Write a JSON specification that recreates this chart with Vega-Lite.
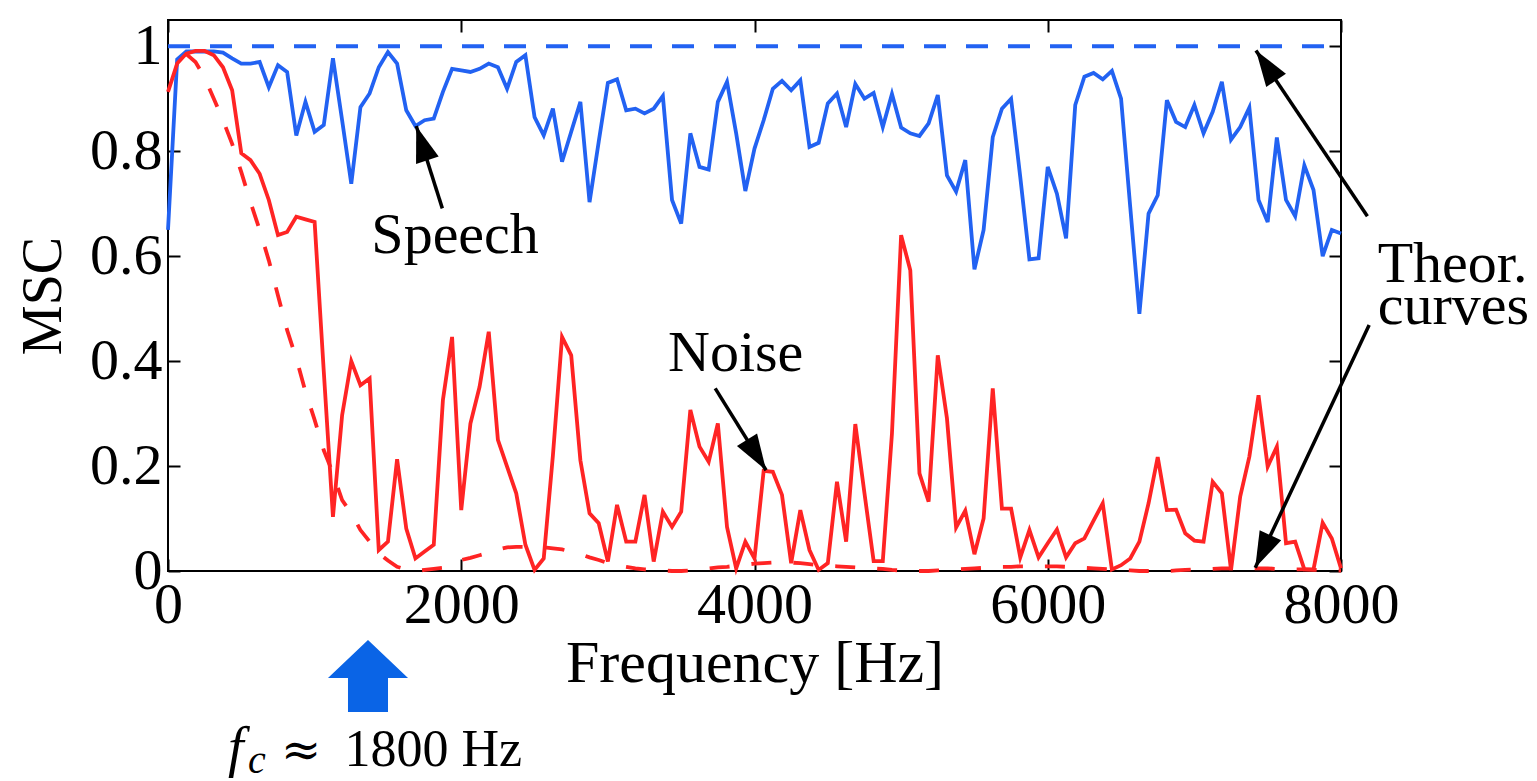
{
  "$schema": "https://vega.github.io/schema/vega-lite/v6.json",
  "width": 1173,
  "height": 551,
  "autosize": {"type": "none"},
  "padding": {"left": 168, "top": 20, "right": 196, "bottom": 210},
  "background": "white",
  "config": {
    "view": {"stroke": "black", "strokeWidth": 2},
    "font": "Liberation Serif",
    "axis": {
      "domain": false,
      "grid": false,
      "tickColor": "black",
      "tickWidth": 2,
      "tickSize": -12,
      "labelFont": "Liberation Serif",
      "labelColor": "black",
      "labelFontSize": 58,
      "labelFlush": false,
      "labelOverlap": false,
      "titleFont": "Liberation Serif",
      "titleColor": "black",
      "titleFontWeight": "normal"
    }
  },
  "datasets": {
    "curves": [
      {"f": 0, "speech": 0.65, "noise": 0.913, "noiseTheory": null},
      {"f": 62.5, "speech": 0.975, "noise": 0.967, "noiseTheory": null},
      {"f": 125, "speech": 0.99, "noise": 0.986, "noiseTheory": 0.985},
      {"f": 187.5, "speech": 0.99, "noise": 0.991, "noiseTheory": 0.97},
      {"f": 250, "speech": 0.99, "noise": 0.991, "noiseTheory": 0.94},
      {"f": 312.5, "speech": 0.99, "noise": 0.983, "noiseTheory": 0.9},
      {"f": 375, "speech": 0.988, "noise": 0.96, "noiseTheory": 0.859},
      {"f": 437.5, "speech": 0.977, "noise": 0.916, "noiseTheory": 0.814},
      {"f": 500, "speech": 0.967, "noise": 0.796, "noiseTheory": 0.76},
      {"f": 562.5, "speech": 0.967, "noise": 0.783, "noiseTheory": 0.703},
      {"f": 625, "speech": 0.97, "noise": 0.757, "noiseTheory": 0.65},
      {"f": 687.5, "speech": 0.922, "noise": 0.707, "noiseTheory": 0.592},
      {"f": 750, "speech": 0.964, "noise": 0.64, "noiseTheory": 0.525},
      {"f": 812.5, "speech": 0.951, "noise": 0.646, "noiseTheory": 0.459},
      {"f": 875, "speech": 0.83, "noise": 0.675, "noiseTheory": 0.405},
      {"f": 937.5, "speech": 0.894, "noise": 0.67, "noiseTheory": 0.342},
      {"f": 1000, "speech": 0.837, "noise": 0.665, "noiseTheory": 0.288},
      {"f": 1062.5, "speech": 0.85, "noise": 0.38, "noiseTheory": 0.23},
      {"f": 1125, "speech": 0.977, "noise": 0.103, "noiseTheory": 0.186},
      {"f": 1187.5, "speech": 0.859, "noise": 0.297, "noiseTheory": 0.135},
      {"f": 1250, "speech": 0.738, "noise": 0.4, "noiseTheory": 0.11},
      {"f": 1312.5, "speech": 0.884, "noise": 0.354, "noiseTheory": 0.078},
      {"f": 1375, "speech": 0.91, "noise": 0.367, "noiseTheory": 0.056},
      {"f": 1437.5, "speech": 0.96, "noise": 0.04, "noiseTheory": 0.034},
      {"f": 1500, "speech": 0.989, "noise": 0.056, "noiseTheory": 0.02},
      {"f": 1562.5, "speech": 0.967, "noise": 0.213, "noiseTheory": 0.008},
      {"f": 1625, "speech": 0.878, "noise": 0.081, "noiseTheory": 0.003},
      {"f": 1687.5, "speech": 0.848, "noise": 0.024, "noiseTheory": 0.0},
      {"f": 1750, "speech": 0.859, "noise": 0.037, "noiseTheory": 0.002},
      {"f": 1812.5, "speech": 0.862, "noise": 0.05, "noiseTheory": 0.004},
      {"f": 1875, "speech": 0.913, "noise": 0.326, "noiseTheory": 0.006},
      {"f": 1937.5, "speech": 0.957, "noise": 0.446, "noiseTheory": 0.014},
      {"f": 2000, "speech": 0.954, "noise": 0.116, "noiseTheory": 0.021},
      {"f": 2062.5, "speech": 0.951, "noise": 0.281, "noiseTheory": 0.025},
      {"f": 2125, "speech": 0.957, "noise": 0.351, "noiseTheory": 0.03},
      {"f": 2187.5, "speech": 0.967, "noise": 0.456, "noiseTheory": 0.035},
      {"f": 2250, "speech": 0.96, "noise": 0.25, "noiseTheory": 0.041},
      {"f": 2312.5, "speech": 0.919, "noise": 0.199, "noiseTheory": 0.045},
      {"f": 2375, "speech": 0.97, "noise": 0.148, "noiseTheory": 0.046},
      {"f": 2437.5, "speech": 0.983, "noise": 0.05, "noiseTheory": 0.046},
      {"f": 2500, "speech": 0.865, "noise": 0.002, "noiseTheory": 0.046},
      {"f": 2562.5, "speech": 0.83, "noise": 0.024, "noiseTheory": 0.045},
      {"f": 2625, "speech": 0.881, "noise": 0.22, "noiseTheory": 0.043},
      {"f": 2687.5, "speech": 0.78, "noise": 0.446, "noiseTheory": 0.041},
      {"f": 2750, "speech": 0.837, "noise": 0.411, "noiseTheory": 0.037},
      {"f": 2812.5, "speech": 0.894, "noise": 0.211, "noiseTheory": 0.032},
      {"f": 2875, "speech": 0.703, "noise": 0.11, "noiseTheory": 0.026},
      {"f": 2937.5, "speech": 0.818, "noise": 0.091, "noiseTheory": 0.021},
      {"f": 3000, "speech": 0.93, "noise": 0.018, "noiseTheory": 0.015},
      {"f": 3062.5, "speech": 0.937, "noise": 0.126, "noiseTheory": 0.011},
      {"f": 3125, "speech": 0.878, "noise": 0.056, "noiseTheory": 0.008},
      {"f": 3187.5, "speech": 0.881, "noise": 0.056, "noiseTheory": 0.005},
      {"f": 3250, "speech": 0.872, "noise": 0.145, "noiseTheory": 0.003},
      {"f": 3312.5, "speech": 0.881, "noise": 0.018, "noiseTheory": 0.002},
      {"f": 3375, "speech": 0.905, "noise": 0.113, "noiseTheory": 0.001},
      {"f": 3437.5, "speech": 0.707, "noise": 0.084, "noiseTheory": 0.0},
      {"f": 3500, "speech": 0.662, "noise": 0.113, "noiseTheory": 0.0},
      {"f": 3562.5, "speech": 0.834, "noise": 0.307, "noiseTheory": 0.001},
      {"f": 3625, "speech": 0.77, "noise": 0.237, "noiseTheory": 0.003},
      {"f": 3687.5, "speech": 0.765, "noise": 0.208, "noiseTheory": 0.005},
      {"f": 3750, "speech": 0.894, "noise": 0.281, "noiseTheory": 0.007},
      {"f": 3812.5, "speech": 0.932, "noise": 0.084, "noiseTheory": 0.008},
      {"f": 3875, "speech": 0.834, "noise": 0.005, "noiseTheory": 0.01},
      {"f": 3937.5, "speech": 0.724, "noise": 0.056, "noiseTheory": 0.012},
      {"f": 4000, "speech": 0.805, "noise": 0.024, "noiseTheory": 0.014},
      {"f": 4062.5, "speech": 0.859, "noise": 0.191, "noiseTheory": 0.015},
      {"f": 4125, "speech": 0.919, "noise": 0.189, "noiseTheory": 0.016},
      {"f": 4187.5, "speech": 0.934, "noise": 0.145, "noiseTheory": 0.016},
      {"f": 4250, "speech": 0.916, "noise": 0.015, "noiseTheory": 0.016},
      {"f": 4312.5, "speech": 0.935, "noise": 0.116, "noiseTheory": 0.015},
      {"f": 4375, "speech": 0.808, "noise": 0.04, "noiseTheory": 0.013},
      {"f": 4437.5, "speech": 0.816, "noise": 0.002, "noiseTheory": 0.011},
      {"f": 4500, "speech": 0.891, "noise": 0.015, "noiseTheory": 0.01},
      {"f": 4562.5, "speech": 0.91, "noise": 0.17, "noiseTheory": 0.009},
      {"f": 4625, "speech": 0.846, "noise": 0.056, "noiseTheory": 0.008},
      {"f": 4687.5, "speech": 0.928, "noise": 0.28, "noiseTheory": 0.007},
      {"f": 4750, "speech": 0.9, "noise": 0.148, "noiseTheory": 0.006},
      {"f": 4812.5, "speech": 0.911, "noise": 0.019, "noiseTheory": 0.005},
      {"f": 4875, "speech": 0.846, "noise": 0.019, "noiseTheory": 0.004},
      {"f": 4937.5, "speech": 0.909, "noise": 0.262, "noiseTheory": 0.002},
      {"f": 5000, "speech": 0.845, "noise": 0.64, "noiseTheory": 0.001},
      {"f": 5062.5, "speech": 0.834, "noise": 0.573, "noiseTheory": 0.0},
      {"f": 5125, "speech": 0.829, "noise": 0.186, "noiseTheory": 0.0},
      {"f": 5187.5, "speech": 0.853, "noise": 0.132, "noiseTheory": 0.0},
      {"f": 5250, "speech": 0.907, "noise": 0.411, "noiseTheory": 0.001},
      {"f": 5312.5, "speech": 0.754, "noise": 0.291, "noiseTheory": 0.002},
      {"f": 5375, "speech": 0.723, "noise": 0.083, "noiseTheory": 0.003},
      {"f": 5437.5, "speech": 0.783, "noise": 0.115, "noiseTheory": 0.004},
      {"f": 5500, "speech": 0.575, "noise": 0.032, "noiseTheory": 0.005},
      {"f": 5562.5, "speech": 0.65, "noise": 0.1, "noiseTheory": 0.006},
      {"f": 5625, "speech": 0.827, "noise": 0.348, "noiseTheory": 0.007},
      {"f": 5687.5, "speech": 0.881, "noise": 0.119, "noiseTheory": 0.008},
      {"f": 5750, "speech": 0.9, "noise": 0.119, "noiseTheory": 0.008},
      {"f": 5812.5, "speech": 0.751, "noise": 0.026, "noiseTheory": 0.009},
      {"f": 5875, "speech": 0.594, "noise": 0.078, "noiseTheory": 0.009},
      {"f": 5937.5, "speech": 0.596, "noise": 0.026, "noiseTheory": 0.009},
      {"f": 6000, "speech": 0.77, "noise": 0.053, "noiseTheory": 0.009},
      {"f": 6062.5, "speech": 0.719, "noise": 0.079, "noiseTheory": 0.009},
      {"f": 6125, "speech": 0.634, "noise": 0.026, "noiseTheory": 0.008},
      {"f": 6187.5, "speech": 0.888, "noise": 0.053, "noiseTheory": 0.007},
      {"f": 6250, "speech": 0.942, "noise": 0.062, "noiseTheory": 0.006},
      {"f": 6312.5, "speech": 0.949, "noise": 0.096, "noiseTheory": 0.005},
      {"f": 6375, "speech": 0.937, "noise": 0.129, "noiseTheory": 0.004},
      {"f": 6437.5, "speech": 0.953, "noise": 0.003, "noiseTheory": 0.003},
      {"f": 6500, "speech": 0.9, "noise": 0.011, "noiseTheory": 0.002},
      {"f": 6562.5, "speech": 0.694, "noise": 0.024, "noiseTheory": 0.001},
      {"f": 6625, "speech": 0.49, "noise": 0.056, "noiseTheory": 0.0},
      {"f": 6687.5, "speech": 0.681, "noise": 0.129, "noiseTheory": 0.0},
      {"f": 6750, "speech": 0.716, "noise": 0.217, "noiseTheory": 0.0},
      {"f": 6812.5, "speech": 0.897, "noise": 0.116, "noiseTheory": 0.0},
      {"f": 6875, "speech": 0.856, "noise": 0.117, "noiseTheory": 0.001},
      {"f": 6937.5, "speech": 0.846, "noise": 0.072, "noiseTheory": 0.002},
      {"f": 7000, "speech": 0.888, "noise": 0.058, "noiseTheory": 0.003},
      {"f": 7062.5, "speech": 0.834, "noise": 0.056, "noiseTheory": 0.004},
      {"f": 7125, "speech": 0.875, "noise": 0.17, "noiseTheory": 0.004},
      {"f": 7187.5, "speech": 0.932, "noise": 0.148, "noiseTheory": 0.005},
      {"f": 7250, "speech": 0.822, "noise": 0.002, "noiseTheory": 0.005},
      {"f": 7312.5, "speech": 0.846, "noise": 0.142, "noiseTheory": 0.005},
      {"f": 7375, "speech": 0.883, "noise": 0.218, "noiseTheory": 0.005},
      {"f": 7437.5, "speech": 0.707, "noise": 0.335, "noiseTheory": 0.005},
      {"f": 7500, "speech": 0.665, "noise": 0.199, "noiseTheory": 0.005},
      {"f": 7562.5, "speech": 0.826, "noise": 0.237, "noiseTheory": 0.004},
      {"f": 7625, "speech": 0.707, "noise": 0.053, "noiseTheory": 0.004},
      {"f": 7687.5, "speech": 0.676, "noise": 0.056, "noiseTheory": 0.003},
      {"f": 7750, "speech": 0.773, "noise": 0.003, "noiseTheory": 0.003},
      {"f": 7812.5, "speech": 0.726, "noise": 0.003, "noiseTheory": 0.002},
      {"f": 7875, "speech": 0.6, "noise": 0.092, "noiseTheory": 0.002},
      {"f": 7937.5, "speech": 0.65, "noise": 0.062, "noiseTheory": 0.001},
      {"f": 8000, "speech": 0.643, "noise": 0.005, "noiseTheory": 0.001}
    ],
    "speechTheory": [
      {"f": 0, "msc": 1.0},
      {"f": 8000, "msc": 1.0}
    ],
    "arrows": [
      {"name": "speech", "f": 1871, "msc": 0.691, "f2": 1693, "msc2": 0.848},
      {"name": "noise", "f": 3732, "msc": 0.348, "f2": 4079, "msc2": 0.192},
      {"name": "theorUpper", "f": 8180, "msc": 0.676, "f2": 7420, "msc2": 0.992},
      {"name": "theorLower", "f": 8192, "msc": 0.469, "f2": 7415, "msc2": 0.006}
    ],
    "cutoff": [
      {"f": 1364, "msc": -0.2}
    ],
    "labels": [
      {"role": "annot", "text": "Speech", "f": 1387, "msc": 0.606},
      {"role": "annot", "text": "Noise", "f": 3410, "msc": 0.381},
      {"role": "annot", "text": "Theor.", "f": 8250, "msc": 0.551},
      {"role": "annot", "text": "curves", "f": 8250, "msc": 0.471},
      {"role": "fsym", "text": "f", "f": 409, "msc": -0.372},
      {"role": "fsub", "text": "c", "f": 546, "msc": -0.385},
      {"role": "approx", "text": "≈", "f": 907, "msc": -0.372},
      {"role": "value", "text": "1800 Hz", "f": 1204, "msc": -0.372}
    ]
  },
  "layer": [
    {
      "data": {"name": "curves"},
      "mark": {"type": "line", "color": "#2262f2", "strokeWidth": 3.8},
      "encoding": {
        "x": {
          "field": "f", "type": "quantitative",
          "scale": {"domain": [0, 8000], "nice": false, "zero": false},
          "axis": {
            "orient": "bottom",
            "values": [0, 2000, 4000, 6000, 8000],
            "format": "d",
            "title": "Frequency [Hz]",
            "titleFontSize": 60,
            "labelPadding": 17,
            "titlePadding": 0
          }
        },
        "y": {
          "field": "speech", "type": "quantitative",
          "scale": {"domain": [0, 1.05], "nice": false},
          "axis": {
            "orient": "left",
            "values": [0, 0.2, 0.4, 0.6, 0.8, 1],
            "format": "~g",
            "title": "MSC",
            "titleFontSize": 56,
            "labelPadding": 18,
            "titlePadding": 17
          }
        }
      }
    },
    {
      "data": {"name": "curves"},
      "mark": {"type": "line", "color": "#ff2424", "strokeWidth": 3.8, "strokeDash": [20, 22]},
      "encoding": {
        "x": {"field": "f", "type": "quantitative", "axis": {"orient": "top", "values": [0, 2000, 4000, 6000, 8000], "labels": false, "title": null}},
        "y": {"field": "noiseTheory", "type": "quantitative", "axis": {"orient": "right", "values": [0, 0.2, 0.4, 0.6, 0.8, 1], "labels": false, "title": null}}
      }
    },
    {
      "data": {"name": "curves"},
      "mark": {"type": "line", "color": "#ff2424", "strokeWidth": 3.8},
      "encoding": {
        "x": {"field": "f", "type": "quantitative", "axis": null},
        "y": {"field": "noise", "type": "quantitative", "axis": null}
      }
    },
    {
      "data": {"name": "speechTheory"},
      "mark": {"type": "line", "color": "#2262f2", "strokeWidth": 3.8, "strokeDash": [22, 20]},
      "encoding": {
        "x": {"field": "f", "type": "quantitative", "axis": null},
        "y": {"field": "msc", "type": "quantitative", "axis": null}
      }
    },
    {
      "data": {"name": "arrows"},
      "mark": {"type": "rule", "color": "black", "strokeWidth": 3.5},
      "encoding": {
        "x": {"field": "f", "type": "quantitative", "axis": null},
        "y": {"field": "msc", "type": "quantitative", "axis": null},
        "x2": {"field": "f2"},
        "y2": {"field": "msc2"}
      }
    },
    {
      "data": {"name": "arrows"},
      "transform": [{"filter": "datum.name === 'speech'"}],
      "mark": {"type": "point", "shape": "M0,0L-0.33,1L0.33,1Z", "size": 5184, "angle": 342, "filled": true, "color": "black", "opacity": 1, "strokeWidth": 0},
      "encoding": {
        "x": {"field": "f2", "type": "quantitative", "axis": null},
        "y": {"field": "msc2", "type": "quantitative", "axis": null}
      }
    },
    {
      "data": {"name": "arrows"},
      "transform": [{"filter": "datum.name === 'noise'"}],
      "mark": {"type": "point", "shape": "M0,0L-0.33,1L0.33,1Z", "size": 5184, "angle": 148, "filled": true, "color": "black", "opacity": 1, "strokeWidth": 0},
      "encoding": {
        "x": {"field": "f2", "type": "quantitative", "axis": null},
        "y": {"field": "msc2", "type": "quantitative", "axis": null}
      }
    },
    {
      "data": {"name": "arrows"},
      "transform": [{"filter": "datum.name === 'theorUpper'"}],
      "mark": {"type": "point", "shape": "M0,0L-0.33,1L0.33,1Z", "size": 5184, "angle": 326, "filled": true, "color": "black", "opacity": 1, "strokeWidth": 0},
      "encoding": {
        "x": {"field": "f2", "type": "quantitative", "axis": null},
        "y": {"field": "msc2", "type": "quantitative", "axis": null}
      }
    },
    {
      "data": {"name": "arrows"},
      "transform": [{"filter": "datum.name === 'theorLower'"}],
      "mark": {"type": "point", "shape": "M0,0L-0.33,1L0.33,1Z", "size": 5184, "angle": 205, "filled": true, "color": "black", "opacity": 1, "strokeWidth": 0},
      "encoding": {
        "x": {"field": "f2", "type": "quantitative", "axis": null},
        "y": {"field": "msc2", "type": "quantitative", "axis": null}
      }
    },
    {
      "data": {"name": "cutoff"},
      "mark": {"type": "point", "shape": "M0,-0.878L0.976,0.05L0.488,0.05L0.488,0.878L-0.488,0.878L-0.488,0.05L-0.976,0.05Z", "size": 6724, "filled": true, "color": "#0a64e6", "opacity": 1, "strokeWidth": 0},
      "encoding": {
        "x": {"field": "f", "type": "quantitative", "axis": null},
        "y": {"field": "msc", "type": "quantitative", "axis": null}
      }
    },
    {
      "data": {"name": "labels"},
      "transform": [{"filter": "datum.role === 'annot'"}],
      "mark": {"type": "text", "font": "Liberation Serif", "fontSize": 58, "align": "left", "baseline": "alphabetic", "color": "black"},
      "encoding": {
        "x": {"field": "f", "type": "quantitative", "axis": null},
        "y": {"field": "msc", "type": "quantitative", "axis": null},
        "text": {"field": "text"}
      }
    },
    {
      "data": {"name": "labels"},
      "transform": [{"filter": "datum.role === 'fsym'"}],
      "mark": {"type": "text", "font": "Liberation Serif", "fontStyle": "italic", "fontSize": 56, "align": "left", "baseline": "alphabetic", "color": "black"},
      "encoding": {
        "x": {"field": "f", "type": "quantitative", "axis": null},
        "y": {"field": "msc", "type": "quantitative", "axis": null},
        "text": {"field": "text"}
      }
    },
    {
      "data": {"name": "labels"},
      "transform": [{"filter": "datum.role === 'fsub'"}],
      "mark": {"type": "text", "font": "Liberation Serif", "fontStyle": "italic", "fontSize": 40, "align": "left", "baseline": "alphabetic", "color": "black"},
      "encoding": {
        "x": {"field": "f", "type": "quantitative", "axis": null},
        "y": {"field": "msc", "type": "quantitative", "axis": null},
        "text": {"field": "text"}
      }
    },
    {
      "data": {"name": "labels"},
      "transform": [{"filter": "datum.role === 'approx'"}],
      "mark": {"type": "text", "font": "DejaVu Serif", "fontSize": 48, "align": "center", "baseline": "alphabetic", "color": "black"},
      "encoding": {
        "x": {"field": "f", "type": "quantitative", "axis": null},
        "y": {"field": "msc", "type": "quantitative", "axis": null},
        "text": {"field": "text"}
      }
    },
    {
      "data": {"name": "labels"},
      "transform": [{"filter": "datum.role === 'value'"}],
      "mark": {"type": "text", "font": "Liberation Serif", "fontSize": 52, "align": "left", "baseline": "alphabetic", "color": "black"},
      "encoding": {
        "x": {"field": "f", "type": "quantitative", "axis": null},
        "y": {"field": "msc", "type": "quantitative", "axis": null},
        "text": {"field": "text"}
      }
    }
  ],
  "resolve": {"axis": {"x": "independent", "y": "independent"}}
}
